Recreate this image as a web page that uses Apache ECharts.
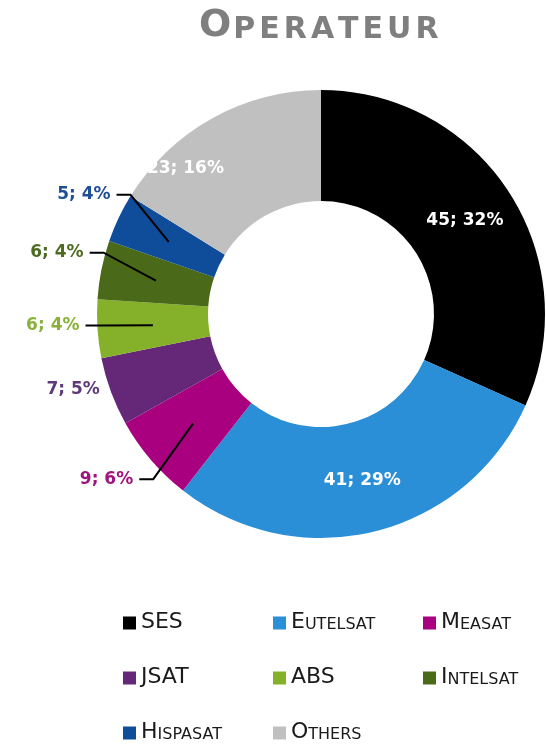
<!DOCTYPE html>
<html>
<head>
<meta charset="utf-8">
<script src="https://cdn.jsdelivr.net/npm/echarts@6/dist/echarts.min.js"></script>
<style>
  html, body { margin: 0; padding: 0; background: #fff; }
  #chart { width: 546px; height: 746px; }
</style>
</head>
<body>
<div id="chart"></div>
<script>
  // data
  const chartTitle = 'Operateur';
  const operators = ['SES', 'Eutelsat', 'Measat', 'JSAT', 'ABS', 'Intelsat', 'Hispasat', 'Others'];
  const counts = [45, 41, 9, 7, 6, 6, 5, 23];

  const sliceColors = ['#000000', '#2b8fd8', '#a8007e', '#652878', '#85b02a', '#4a6a1a', '#0f4c9a', '#c0c0c0'];
  const labelColors = ['#ffffff', '#ffffff', '#a0157c', '#5f3a7a', '#8ab23a', '#4d6b20', '#1f4f94', '#ffffff'];
  const insideLabels = ['SES', 'Eutelsat', 'Others'];
  const noLine = ['JSAT'];
  // nudges of the labels, like they were dragged in the original
  const labelShift = {
    Hispasat: [20, -19],
    Intelsat: [11, -15],
    ABS: [11, -4],
    JSAT: [-6, -2],
    Measat: [9, 13],
    Others: [-52, 4],
  };

  const center = [321, 314];
  const radius = [113, 224];
  const midR = (radius[0] + radius[1]) / 2;

  // fake small caps: first letter big, rest upper case smaller
  const smallCaps = (name, big, small) => {
    if (name === name.toUpperCase()) return '{' + big + '|' + name + '}';
    return '{' + big + '|' + name[0].toUpperCase() + '}{' + small + '|' + name.slice(1).toUpperCase() + '}';
  };

  const titleText = '{o|' + chartTitle[0].toUpperCase() + '}' +
    chartTitle.slice(1).toUpperCase().split('').map(c => '{s|' + c + '}').join('');

  const pieData = operators.map((name, i) => ({
    name: name,
    value: counts[i],
    itemStyle: { color: sliceColors[i] },
  }));

  // legend: 3 columns, filled row by row
  const legendCols = 3;
  const legends = operators.map((name, i) => ({
    data: [{ name: name, itemStyle: { color: sliceColors[i] } }],
    left: 123 + (i % legendCols) * 150,
    top: 611 + Math.floor(i / legendCols) * 55,
    padding: 0,
    itemWidth: 13,
    itemHeight: 13,
    icon: 'rect',
    selectedMode: false,
    formatter: n => smallCaps(n, 'b', 's'),
    textStyle: {
      color: '#1a1a1a',
      rich: {
        b: { fontSize: 22, fontFamily: 'DejaVu Sans', color: '#1a1a1a', verticalAlign: 'bottom', lineHeight: 20 },
        s: { fontSize: 16, fontFamily: 'DejaVu Sans', color: '#1a1a1a', verticalAlign: 'bottom', lineHeight: 20 },
      },
    },
  }));

  const chart = echarts.init(document.getElementById('chart'));

  const option = {
    animation: false,
    title: {
      text: titleText,
      left: 194,
      top: 2,
      textStyle: {
        rich: {
          o: { fontSize: 38, fontWeight: 'bold', fontFamily: 'DejaVu Sans', color: '#7f7f7f', verticalAlign: 'bottom' },
          s: { fontSize: 30, fontWeight: 'bold', fontFamily: 'DejaVu Sans', color: '#7f7f7f', verticalAlign: 'bottom', padding: [0, 2, 0, 2] },
        },
      },
    },
    legend: legends,
    series: [
      {
        // the coloured ring
        type: 'pie',
        z: 2,
        center: center,
        radius: radius,
        startAngle: 90,
        clockwise: true,
        emphasis: { disabled: true },
        label: { show: false },
        labelLine: { show: false },
        data: pieData,
      },
      {
        // same ring, transparent, on top: carries labels and leader lines
        type: 'pie',
        z: 3,
        silent: true,
        center: center,
        radius: radius,
        startAngle: 90,
        clockwise: true,
        avoidLabelOverlap: false,
        percentPrecision: 0,
        emphasis: { disabled: true },
        itemStyle: { color: 'rgba(0,0,0,0)' },
        label: {
          formatter: '{c}; {d}%',
          fontFamily: 'DejaVu Sans',
          fontWeight: 'bold',
          fontSize: 17,
        },
        labelLine: {
          length: 10,
          length2: 14,
          lineStyle: { color: '#000', width: 2 },
        },
        labelLayout: p => {
          const name = operators[p.dataIndex];
          const shift = labelShift[name] || [0, 0];
          const res = { dx: shift[0], dy: shift[1] };
          const pts = p.labelLinePoints;
          if (insideLabels.includes(name) || noLine.includes(name) || !pts) return res;
          const r = p.labelRect;
          const k = midR / radius[1];
          const p0 = [center[0] + (pts[0][0] - center[0]) * k, center[1] + (pts[0][1] - center[1]) * k];
          const p2 = [r.x + shift[0] + r.width + 6, r.y + shift[1] + r.height / 2];
          const p1 = [p2[0] + 14, p2[1]];
          res.labelLinePoints = [p0, p1, p2];
          return res;
        },
        data: operators.map((name, i) => {
          const inside = insideLabels.includes(name);
          return {
            name: name,
            value: counts[i],
            itemStyle: { color: 'rgba(0,0,0,0)' },
            label: { position: inside ? 'inside' : 'outside', color: labelColors[i] },
            labelLine: inside || noLine.includes(name)
              ? { show: false, length: 0, length2: 0 }
              : { show: true },
          };
        }),
      },
    ],
  };

  chart.setOption(option);
</script>
</body>
</html>
